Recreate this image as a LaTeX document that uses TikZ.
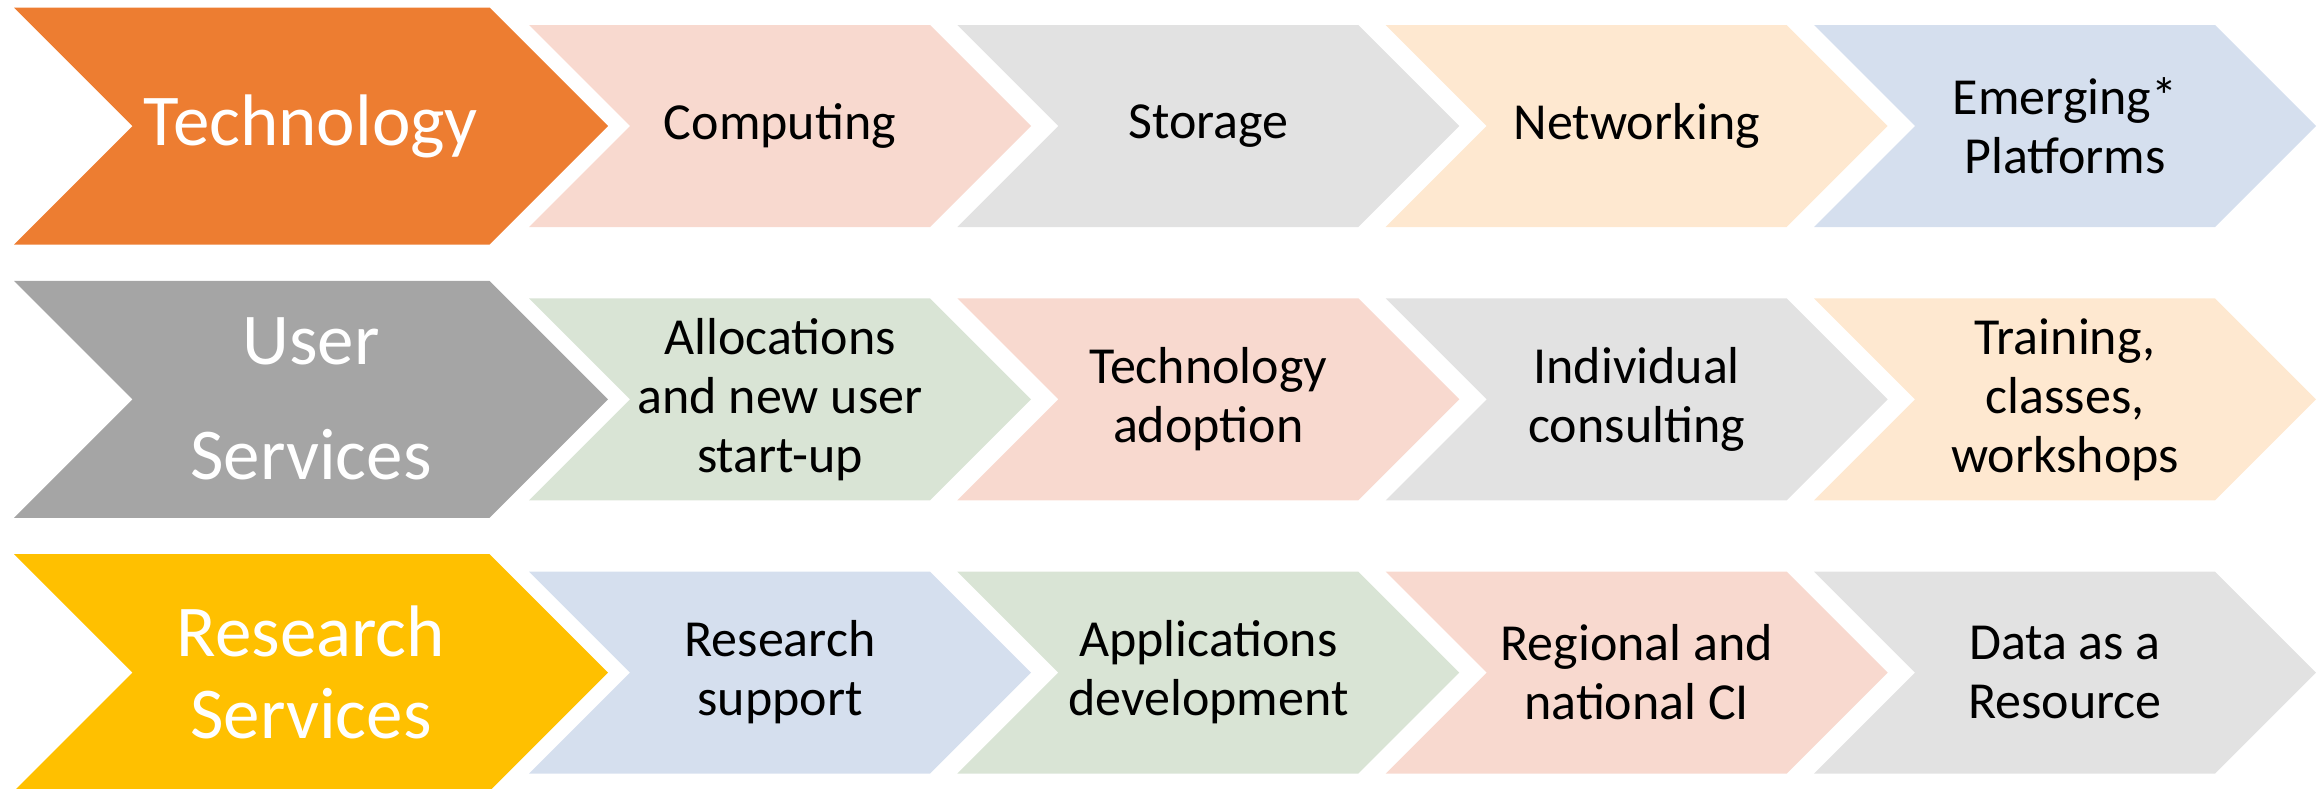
\documentclass[tikz,border=0pt]{standalone}
\usepackage{fontspec}
\setmainfont{Carlito}

\definecolor{techorange}{HTML}{ED7D31}
\definecolor{usergray}{HTML}{A5A5A5}
\definecolor{researchgold}{HTML}{FFC000}
\definecolor{lpink}{HTML}{F8D9CF}
\definecolor{lgray}{HTML}{E2E2E2}
\definecolor{lpeach}{HTML}{FEE8D0}
\definecolor{lblue}{HTML}{D5DFEE}
\definecolor{lgreen}{HTML}{D9E4D5}

% chevron: left x, centre y, width (to tip), half height, fill colour
\newcommand\mychev[5]{%
  \fill[#5] (#1,#2-#4) -- ++(#3-#4,0) -- ++(#4,#4) -- ++(-#4,#4)
            -- ++(-#3+#4,0) -- ++(#4,-#4) -- cycle;}

\tikzset{
  bigtext/.style={text=white, inner sep=0pt, align=center,
                  font=\fontsize{36.5}{41}\selectfont},
  smalltext/.style={text=black, inner sep=0pt, align=center,
                  font=\fontsize{26}{29.5}\selectfont},
}

\begin{document}
\begin{tikzpicture}[x=0.5pt,y=-0.5pt]
\useasboundingbox (0,0) rectangle (2321,788);
\clip (0,0) rectangle (2321,788);

% ---- Technology row
\mychev{14}{126}{594}{118.5}{techorange}
\mychev{529}{126}{502}{101}{lpink}
\mychev{957.3}{126}{502}{101}{lgray}
\mychev{1385.7}{126}{502}{101}{lpeach}
\mychev{1814}{126}{502}{101}{lblue}
\node[bigtext]   (tech)  at (311,126)    {Technology};
\node[smalltext] (comp)  at (780,126)    {Computing};
\node[smalltext] (stor)  at (1208.3,126) {Storage};
\node[smalltext] (netw)  at (1636.7,126) {Networking};
\node[smalltext] (emer)  at (2065,126)   {Emerging*\\Platforms};

% ---- User Services row
\mychev{14}{399.3}{594}{118.5}{usergray}
\mychev{529}{399.3}{502}{101}{lgreen}
\mychev{957.3}{399.3}{502}{101}{lpink}
\mychev{1385.7}{399.3}{502}{101}{lgray}
\mychev{1814}{399.3}{502}{101}{lpeach}
\node[bigtext, font=\fontsize{36.5}{57.5}\selectfont] (user) at (311,399.3) {User\\Services};
\node[smalltext] (alloc) at (780,399.3)    {Allocations\\and new user\\start-up};
\node[smalltext] (adopt) at (1208.3,399.3) {Technology\\adoption};
\node[smalltext] (indiv) at (1636.7,399.3) {Individual\\consulting};
\node[smalltext] (train) at (2065,399.3)   {Training,\\classes,\\workshops};

% ---- Research Services row
\mychev{14}{672.6}{594}{118.5}{researchgold}
\mychev{529}{672.6}{502}{101}{lblue}
\mychev{957.3}{672.6}{502}{101}{lgreen}
\mychev{1385.7}{672.6}{502}{101}{lpink}
\mychev{1814}{672.6}{502}{101}{lgray}
\node[bigtext] (resr) at (311,672.6)    {Research\\Services};
\node[smalltext] (rsup) at (780,672.6)    {Research\\support};
\node[smalltext] (apps) at (1208.3,672.6) {Applications\\development};
\node[smalltext] (regn) at (1636.7,672.6) {Regional and\\national CI};
\node[smalltext] (data) at (2065,672.6)   {Data as a\\Resource};
\end{tikzpicture}
\end{document}
